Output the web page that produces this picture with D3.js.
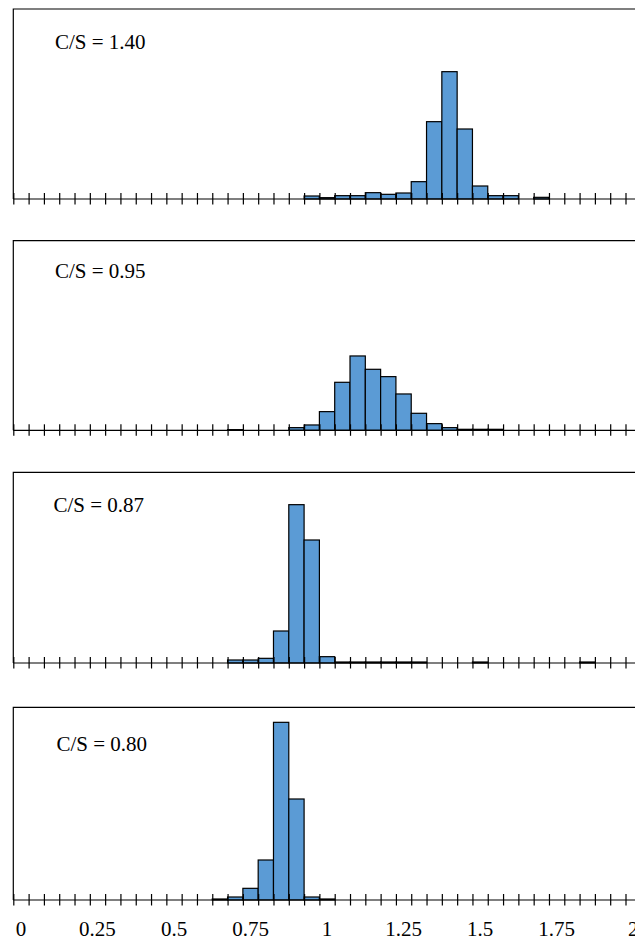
<!DOCTYPE html>
<html>
<head>
<meta charset="utf-8">
<script src="https://cdn.jsdelivr.net/npm/d3@7"></script>
<style>
  html, body { margin: 0; padding: 0; background: #fff; overflow: hidden; }
  svg { display: block; }
</style>
</head>
<body>
<div id="chart"></div>
<script>
// bin starts, every 0.05 from 0 to 1.95
const binStarts = d3.range(40).map(i => +(i * 0.05).toFixed(2));
const binWidth = 0.05;

// share of runs per bin (%) for each C/S ratio
const cs140 = [
  0, 0, 0, 0, 0, 0, 0, 0, 0, 0,
  0, 0, 0, 0, 0, 0, 0, 0, 0, 0.9,
  0.4, 1.0, 1.0, 1.9, 1.4, 1.8, 5.2, 23.2, 38.2, 21.0,
  3.9, 1.0, 1.0, 0, 0.5, 0, 0, 0, 0, 0
];
const cs095 = [
  0, 0, 0, 0, 0, 0, 0, 0, 0, 0,
  0, 0, 0, 0, 0.2, 0, 0, 0, 0.8, 1.6,
  5.6, 14.4, 22.3, 18.3, 16.1, 10.9, 5.1, 2.0, 0.8, 0.3,
  0.3, 0.3, 0, 0, 0, 0, 0, 0, 0, 0
];
const cs087 = [
  0, 0, 0, 0, 0, 0, 0, 0, 0, 0,
  0, 0, 0, 0, 0.9, 0.9, 1.4, 9.6, 47.5, 36.9,
  1.9, 0.3, 0.3, 0.3, 0.3, 0.3, 0.3, 0, 0, 0,
  0.3, 0, 0, 0, 0, 0, 0, 0.3, 0, 0
];
const cs080 = [
  0, 0, 0, 0, 0, 0, 0, 0, 0, 0,
  0, 0, 0, 0.3, 0.9, 3.5, 12.0, 53.3, 30.3, 0.9,
  0.3, 0, 0, 0, 0, 0, 0, 0, 0, 0,
  0, 0, 0, 0, 0, 0, 0, 0, 0, 0
];

const panelLabels = ['C/S = 1.40', 'C/S = 0.95', 'C/S = 0.87', 'C/S = 0.80'];
const panelSeries = [cs140, cs095, cs087, cs080];
const axisTicks = [0, 0.25, 0.5, 0.75, 1, 1.25, 1.5, 1.75, 2];
const axisTickLabels = ['0', '0.25', '0.5', '0.75', '1', '1.25', '1.5', '1.75', '2'];

// layout (pixels)
const width = 635, height = 941;
const panelLayout = [
  { top: 9, axisY: 199, labelX: 55, labelY: 48.5 },
  { top: 240.7, axisY: 430.3, labelX: 55, labelY: 278 },
  { top: 472.3, axisY: 663, labelX: 53.5, labelY: 511.5 },
  { top: 707.3, axisY: 900, labelX: 56.5, labelY: 750.5 }
];
const plotH = 190;
const font = "'Liberation Serif', 'Times New Roman', serif";

const x = d3.scaleLinear().domain([0, 2]).range([13.3, 625.5]);

const svg = d3
  .select('#chart')
  .append('svg')
  .attr('width', width)
  .attr('height', height);

panelSeries.forEach((series, p) => {
  const lay = panelLayout[p];
  const y = d3
    .scaleLinear()
    .domain([0, 57])
    .range([lay.axisY, lay.axisY - plotH]);

  const g = svg.append('g').attr('class', 'panel');

  // frame (right edge falls outside the picture)
  g.append('path')
    .attr('d', `M${width + 5},${lay.top}H${x(0)}V${lay.axisY}`)
    .attr('fill', 'none')
    .attr('stroke', '#000')
    .attr('stroke-width', 1.2);

  // bars
  const bins = binStarts
    .map((s, i) => ({ start: s, value: series[i] }))
    .filter(d => d.value > 0);

  g.selectAll('rect.bar')
    .data(bins)
    .enter()
    .append('rect')
    .attr('class', 'bar')
    .attr('x', d => x(d.start))
    .attr('width', d => x(d.start + binWidth) - x(d.start))
    .attr('y', d => y(d.value))
    .attr('height', d => lay.axisY - y(d.value))
    .attr('fill', '#5B9BD5')
    .attr('stroke', '#000')
    .attr('stroke-width', 1.2);

  // axis line, runs on past 2
  g.append('line')
    .attr('x1', x(0))
    .attr('x2', width + 5)
    .attr('y1', lay.axisY)
    .attr('y2', lay.axisY)
    .attr('stroke', '#000')
    .attr('stroke-width', 1.2);

  // tick marks cross the axis
  const axis = d3
    .axisBottom(x)
    .tickValues(binStarts.concat([2]))
    .tickSize(5)
    .tickSizeOuter(0)
    .tickFormat('');

  const ax = g
    .append('g')
    .attr('transform', `translate(0,${lay.axisY})`)
    .call(axis);
  ax.select('.domain').remove();
  ax.selectAll('.tick line')
    .attr('y1', -6)
    .attr('y2', 5.5)
    .attr('stroke', '#000')
    .attr('stroke-width', 1.2);

  g.append('text')
    .attr('x', lay.labelX)
    .attr('y', lay.labelY)
    .attr('font-family', font)
    .attr('font-size', 21)
    .attr('fill', '#000')
    .text(panelLabels[p]);
});

// value labels only below the last panel, centred in the bin they start
const last = panelLayout[panelLayout.length - 1];
const halfBin = (x(binWidth) - x(0)) / 2;
svg.append('g')
  .selectAll('text')
  .data(axisTicks)
  .enter()
  .append('text')
  .attr('x', d => x(d) + halfBin)
  .attr('y', 936)
  .attr('text-anchor', 'middle')
  .attr('font-family', font)
  .attr('font-size', 21)
  .attr('fill', '#000')
  .text((d, i) => axisTickLabels[i]);
</script>
</body>
</html>
